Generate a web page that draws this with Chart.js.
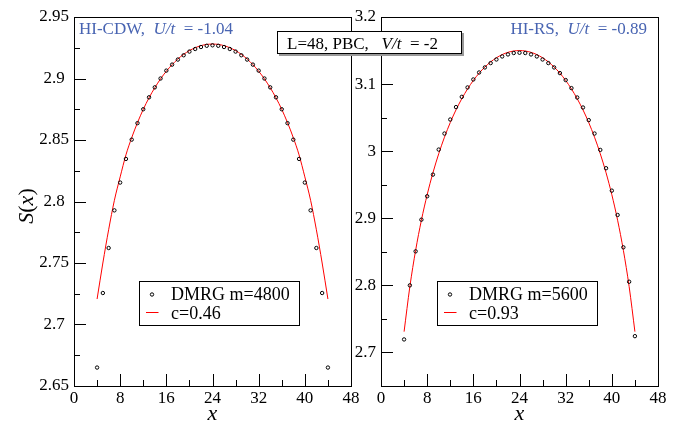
<!DOCTYPE html>
<html>
<head>
<meta charset="utf-8">
<script src="https://cdn.jsdelivr.net/npm/chart.js@4.4.0/dist/chart.umd.min.js"></script>
<style>
  html, body { margin: 0; padding: 0; background: #fff; }
  #wrap { position: relative; width: 685px; height: 422px; }
  #wrap canvas { position: absolute; left: 0; top: 0; }
</style>
</head>
<body>
<div id="wrap">
  <canvas id="cdw-chart" width="685" height="422"></canvas>
  <canvas id="rs-chart" width="685" height="422"></canvas>
</div>
<script>
// ─── DATA ───────────────────────────────────────────────────────────
const xs = [4, 5, 6, 7, 8, 9, 10, 11, 12, 13, 14, 15, 16, 17, 18, 19, 20, 21, 22, 23, 24,
            25, 26, 27, 28, 29, 30, 31, 32, 33, 34, 35, 36, 37, 38, 39, 40, 41, 42, 43, 44];

// HI-CDW, U/t = -1.04 (left)
const cdwDmrg = [2.665, 2.7256, 2.7622, 2.7928, 2.8154, 2.8346, 2.8503, 2.8637, 2.8750, 2.8847, 2.8928,
                 2.9000, 2.9064, 2.9113, 2.9154, 2.9189, 2.9219, 2.9240, 2.9256, 2.9266, 2.9270,
                 2.9266, 2.9256, 2.9240, 2.9219, 2.9189, 2.9154, 2.9113, 2.9064, 2.9000, 2.8928,
                 2.8847, 2.8750, 2.8637, 2.8503, 2.8346, 2.8154, 2.7928, 2.7622, 2.7256, 2.665];
const cdwFit = [2.7207, 2.7500, 2.7770, 2.8010, 2.8200, 2.8379, 2.8519, 2.8641, 2.8749, 2.8843, 2.8925,
                2.8997, 2.9059, 2.9113, 2.9159, 2.9196, 2.9227, 2.9250, 2.9267, 2.9277, 2.9280,
                2.9277, 2.9267, 2.9250, 2.9227, 2.9196, 2.9159, 2.9113, 2.9059, 2.8997, 2.8925,
                2.8843, 2.8749, 2.8641, 2.8519, 2.8379, 2.8200, 2.8010, 2.7770, 2.7500, 2.7207];

// HI-RS, U/t = -0.89 (right)
const rsDmrg = [2.7194, 2.8000, 2.8507, 2.8979, 2.9328, 2.9651, 3.0024, 3.0263, 3.0472, 3.0657, 3.0810,
                3.0950, 3.1069, 3.1173, 3.1248, 3.1313, 3.1367, 3.1412, 3.1442, 3.1463, 3.1467,
                3.1463, 3.1442, 3.1412, 3.1367, 3.1313, 3.1248, 3.1164, 3.1060, 3.0940, 3.0800,
                3.0651, 3.0463, 3.0263, 3.0019, 2.9746, 2.9412, 2.9049, 2.8567, 2.8054, 2.7243];
const rsFit = [2.7310, 2.7981, 2.8522, 2.8971, 2.9351, 2.9678, 2.9961, 3.0209, 3.0426, 3.0616, 3.0782,
               3.0928, 3.1054, 3.1163, 3.1254, 3.1331, 3.1392, 3.1440, 3.1473, 3.1493, 3.1500,
               3.1493, 3.1473, 3.1440, 3.1392, 3.1331, 3.1254, 3.1163, 3.1054, 3.0928, 3.0782,
               3.0616, 3.0426, 3.0209, 2.9961, 2.9678, 2.9351, 2.8971, 2.8522, 2.7981, 2.7310];

const xTicks = [0, 8, 16, 24, 32, 40, 48];
const cdwYTicks = [2.65, 2.7, 2.75, 2.8, 2.85, 2.9, 2.95];
const rsYTicks = [2.7, 2.8, 2.9, 3, 3.1, 3.2];

// ─── STYLE ──────────────────────────────────────────────────────────
const SERIF = '"Liberation Serif", "Times New Roman", serif';
const BLUE = 'rgb(72,100,178)';

function drawRich(ctx, parts, x, y, size, align) {
  const fontOf = it => (it ? 'italic ' : '') + size + 'px ' + SERIF;
  let total = 0;
  parts.forEach(([t, it]) => { ctx.font = fontOf(it); total += ctx.measureText(t).width; });
  let cx = align === 'right' ? x - total : align === 'center' ? x - total / 2 : x;
  ctx.textAlign = 'left';
  ctx.textBaseline = 'alphabetic';
  parts.forEach(([t, it]) => {
    ctx.font = fontOf(it);
    ctx.fillText(t, cx, y);
    cx += ctx.measureText(t).width;
  });
}

function drawTicks(ctx, scale, majors, area, horizontal) {
  const vals = [];
  majors.forEach((v, i) => {
    vals.push([v, 12]);
    if (i < majors.length - 1) vals.push([(v + majors[i + 1]) / 2, 6]);
  });
  ctx.beginPath();
  vals.forEach(([v, len]) => {
    const p = Math.round(scale.getPixelForValue(v)) + 0.5;
    if (horizontal) { ctx.moveTo(p, area.bottom); ctx.lineTo(p, area.bottom - len); }
    else { ctx.moveTo(area.left, p); ctx.lineTo(area.left + len, p); }
  });
  ctx.stroke();
}

function drawLegend(ctx, chart, lg) {
  const [dm, fit] = chart.data.datasets;
  ctx.fillStyle = '#fff';
  ctx.fillRect(lg.x, lg.y, 160, 44);
  ctx.strokeStyle = '#000';
  ctx.lineWidth = 1;
  ctx.strokeRect(lg.x + 0.5, lg.y + 0.5, 160, 44);
  ctx.beginPath();
  ctx.arc(lg.x + lg.mark, lg.y + 13.5, 1.7, 0, Math.PI * 2);
  ctx.stroke();
  ctx.strokeStyle = fit.borderColor;
  ctx.beginPath();
  ctx.moveTo(lg.x + lg.mark - 6, lg.y + 31.5);
  ctx.lineTo(lg.x + lg.mark + 6.5, lg.y + 31.5);
  ctx.stroke();
  ctx.fillStyle = '#000';
  drawRich(ctx, [[dm.label, false]], lg.x + lg.text, lg.y + 19, 18, 'left');
  drawRich(ctx, [[fit.label, false]], lg.x + lg.text, lg.y + 38, 18, 'left');
}

// ─── CHARTS ─────────────────────────────────────────────────────────
function makePanel(id, p) {
  const framePlugin = {
    id: 'frame-' + id,
    afterDraw(chart) {
      const { ctx, chartArea: a, scales } = chart;
      ctx.save();
      ctx.strokeStyle = '#000';
      ctx.lineWidth = 1;
      ctx.strokeRect(Math.round(a.left) + 0.5, Math.round(a.top) + 0.5,
                     Math.round(a.right - a.left), Math.round(a.bottom - a.top));
      drawTicks(ctx, scales.x, xTicks, a, true);
      drawTicks(ctx, scales.y, p.yTicks, a, false);

      // axis titles
      ctx.fillStyle = '#000';
      drawRich(ctx, [['x', true]], (a.left + a.right) / 2, 420, 22, 'center');
      if (p.yTitle) {
        ctx.save();
        ctx.translate(33, 206);
        ctx.rotate(-Math.PI / 2);
        drawRich(ctx, [['S', true], ['(', false], ['x', true], [')', false]], 0, 0, 22, 'center');
        ctx.restore();
      }

      ctx.fillStyle = BLUE;
      drawRich(ctx, p.tag, p.tagX, 34, 17, p.tagAlign);
      drawLegend(ctx, chart, p.legend);

      if (p.box) {
        ctx.fillStyle = '#999';
        ctx.fillRect(279, 33, 185, 23);
        ctx.fillStyle = '#fff';
        ctx.fillRect(277, 31, 185, 23);
        ctx.strokeStyle = '#000';
        ctx.strokeRect(277.5, 31.5, 184, 22);
        ctx.fillStyle = '#000';
        drawRich(ctx, [['L=48, PBC,   ', false], ['V/t', true], ['  = -2', false]], 287, 49, 17, 'left');
      }
      ctx.restore();
    }
  };

  return new Chart(document.getElementById(id), {
    type: 'line',
    data: {
      datasets: [
        { label: p.dmrgLabel, data: xs.map((x, i) => ({ x, y: p.dmrg[i] })), showLine: false,
          pointRadius: 1.7, pointBorderWidth: 1, pointBorderColor: '#000', pointBackgroundColor: 'rgba(0,0,0,0)', order: 0 },
        { label: p.fitLabel, data: xs.map((x, i) => ({ x, y: p.fit[i] })), borderColor: '#ff0000',
          borderWidth: 1, pointRadius: 0, cubicInterpolationMode: 'monotone', order: 1 }
      ]
    },
    options: {
      responsive: false, animation: false, devicePixelRatio: 1,
      layout: { padding: p.pad },
      plugins: { legend: { display: false }, tooltip: { enabled: false } },
      scales: {
        x: {
          type: 'linear', min: 0, max: 48,
          afterBuildTicks: s => { s.ticks = xTicks.map(v => ({ value: v })); },
          afterFit: s => { s.height = 36; },
          grid: { display: false, drawTicks: false }, border: { display: false },
          ticks: { padding: 2, color: '#000', font: { family: SERIF, size: 17 }, maxRotation: 0, autoSkip: false, callback: v => String(v) }
        },
        y: {
          type: 'linear', min: p.yMin, max: p.yMax,
          afterBuildTicks: s => { s.ticks = p.yTicks.map(v => ({ value: v })); },
          afterFit: s => { s.width = p.yWidth; },
          grid: { display: false, drawTicks: false }, border: { display: false },
          ticks: { padding: 5, crossAlign: p.yAlign, color: '#000', font: { family: SERIF, size: 17 }, autoSkip: false, callback: v => String(v) }
        }
      }
    },
    plugins: [framePlugin]
  });
}

makePanel('cdw-chart', {
  dmrg: cdwDmrg, fit: cdwFit, yTicks: cdwYTicks, yMin: 2.65, yMax: 2.95,
  dmrgLabel: 'DMRG m=4800', fitLabel: 'c=0.46',
  pad: { left: 0, right: 334, top: 17, bottom: 0 }, yWidth: 74, yAlign: 'center', yTitle: true,
  tag: [['HI-CDW,  ', false], ['U/t', true], ['  = -1.04', false]], tagX: 79, tagAlign: 'left',
  legend: { x: 139, y: 281, mark: 13, text: 32 }
});

makePanel('rs-chart', {
  dmrg: rsDmrg, fit: rsFit, yTicks: rsYTicks, yMin: 2.65, yMax: 3.2,
  dmrgLabel: 'DMRG m=5600', fitLabel: 'c=0.93',
  pad: { left: 341, right: 27, top: 17, bottom: 0 }, yWidth: 40, yAlign: 'near', yTitle: false,
  tag: [['HI-RS,  ', false], ['U/t', true], ['  = -0.89', false]], tagX: 647, tagAlign: 'right',
  legend: { x: 437, y: 281, mark: 13, text: 32 },
  box: true
});
</script>
</body>
</html>
